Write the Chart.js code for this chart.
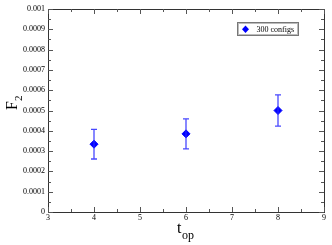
<!DOCTYPE html>
<html lang="en">
<head>
<meta charset="UTF-8">
<title>F2 vs t_op</title>
<script src="https://cdn.jsdelivr.net/npm/chart.js@4.4.1/dist/chart.umd.min.js"></script>
<style>
  html, body { margin: 0; padding: 0; background: #fff; }
  #wrap { width: 332px; height: 245px; }
</style>
</head>
<body>
<div id="wrap"><canvas id="myCanvas" width="332" height="245"></canvas></div>
<script>
// data
var tOp = [4, 6, 8];
var f2 = [0.000334, 0.000385, 0.000500];
var f2Err = [0.000073, 0.000074, 0.000077];
var seriesLabel = '300 configs';
var xTicks = [3, 4, 5, 6, 7, 8, 9];
var yTicks = [0, 0.0001, 0.0002, 0.0003, 0.0004, 0.0005, 0.0006, 0.0007, 0.0008, 0.0009, 0.001];

var blue = '#0000ff';
var serif = '"Liberation Serif", "DejaVu Serif", serif';

// error bars, inward ticks, labels, titles, legend
var frame = {
  id: 'frame',
  afterDatasetsDraw: function(chart) {
    var ctx = chart.ctx;
    var a = chart.chartArea;
    var xs = chart.scales.x, ys = chart.scales.y;
    ctx.save();

    // error bars
    ctx.strokeStyle = 'rgba(40,40,255,0.85)';
    ctx.lineWidth = 1.3;
    for (var i = 0; i < tOp.length; i++) {
      var px = xs.getPixelForValue(tOp[i]);
      var top = ys.getPixelForValue(f2[i] + f2Err[i]);
      var bot = ys.getPixelForValue(f2[i] - f2Err[i]);
      ctx.beginPath();
      ctx.moveTo(px, top); ctx.lineTo(px, bot);
      ctx.moveTo(px - 3, top); ctx.lineTo(px + 3, top);
      ctx.moveTo(px - 3, bot); ctx.lineTo(px + 3, bot);
      ctx.stroke();
    }

    // frame
    ctx.strokeStyle = '#333';
    ctx.lineWidth = 1;
    ctx.strokeRect(Math.round(a.left) + 0.5, Math.round(a.top) + 0.5,
      Math.round(a.right - a.left), Math.round(a.bottom - a.top));

    // ticks, pointing inward on all four sides
    ctx.strokeStyle = '#555';
    ctx.beginPath();
    for (var v = 3; v <= 9.001; v += 0.5) {
      var x = Math.round(xs.getPixelForValue(v)) + 0.5;
      var len = (Math.abs(v - Math.round(v)) < 0.01) ? 5 : 3;
      ctx.moveTo(x, a.bottom); ctx.lineTo(x, a.bottom - len);
      ctx.moveTo(x, a.top); ctx.lineTo(x, a.top + len);
    }
    for (var k = 0; k <= 20; k++) {
      var y = Math.round(ys.getPixelForValue(k * 0.00005)) + 0.5;
      var l2 = (k % 2 === 0) ? 5 : 3;
      ctx.moveTo(a.left, y); ctx.lineTo(a.left + l2, y);
      ctx.moveTo(a.right, y); ctx.lineTo(a.right - l2, y);
    }
    ctx.stroke();

    // tick labels
    ctx.fillStyle = '#000';
    ctx.font = '8px ' + serif;
    ctx.textAlign = 'center';
    ctx.textBaseline = 'top';
    xTicks.forEach(function(t) {
      ctx.fillText(String(t), xs.getPixelForValue(t), a.bottom + 2);
    });
    ctx.textAlign = 'right';
    ctx.textBaseline = 'middle';
    yTicks.forEach(function(t) {
      var s = t === 0 ? '0' : t.toFixed(4).replace(/0+$/, '');
      ctx.fillText(s, a.left - 3, ys.getPixelForValue(t));
    });

    // x title t_op
    ctx.textAlign = 'left';
    ctx.textBaseline = 'alphabetic';
    ctx.font = '16px ' + serif;
    ctx.fillText('t', 177, 233);
    ctx.font = '12px ' + serif;
    ctx.fillText('op', 182, 239);

    // y title F_2
    ctx.save();
    ctx.translate(17, 110);
    ctx.rotate(-Math.PI / 2);
    ctx.font = '16px ' + serif;
    ctx.fillText('F', 0, 0);
    ctx.font = '11px ' + serif;
    ctx.fillText('2', 9, 5);
    ctx.restore();

    // legend
    ctx.strokeStyle = '#777';
    ctx.lineWidth = 1;
    ctx.strokeRect(237.5, 22.5, 61, 13);
    ctx.strokeStyle = '#bbb';
    ctx.strokeRect(238.5, 23.5, 59, 11);
    ctx.fillStyle = blue;
    ctx.beginPath();
    ctx.moveTo(245.5, 25.5); ctx.lineTo(249, 29.3); ctx.lineTo(245.5, 33); ctx.lineTo(242, 29.3);
    ctx.closePath();
    ctx.fill();
    ctx.fillStyle = '#000';
    ctx.font = '8px ' + serif;
    ctx.textBaseline = 'middle';
    ctx.fillText(seriesLabel, 256.5, 29.5);

    ctx.restore();
  }
};

var ctx = document.getElementById('myCanvas').getContext('2d');
var myChart = new Chart(ctx, {
  type: 'scatter',
  data: {
    datasets: [{
      label: seriesLabel,
      data: tOp.map(function(t, i) { return { x: t, y: f2[i] }; }),
      backgroundColor: blue,
      borderColor: blue,
      pointStyle: 'rectRot',
      pointRadius: 4,
      pointHoverRadius: 4
    }]
  },
  options: {
    responsive: false,
    animation: false,
    events: [],
    layout: { padding: { left: 48, right: 8, top: 9, bottom: 33 } },
    plugins: { legend: { display: false }, tooltip: { enabled: false } },
    scales: {
      x: { type: 'linear', min: 3, max: 9, display: false },
      y: { type: 'linear', min: 0, max: 0.001, display: false }
    }
  },
  plugins: [frame]
});
</script>
</body>
</html>
